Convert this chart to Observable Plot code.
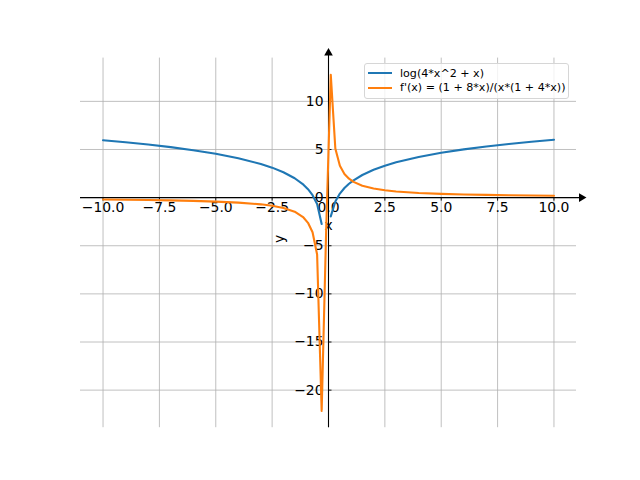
<!DOCTYPE html>
<html>
<head>
<meta charset="utf-8">
<script src="https://cdn.jsdelivr.net/npm/d3@7"></script>
<script src="https://cdn.jsdelivr.net/npm/@observablehq/plot@0.6"></script>
<style>
  body { margin: 0; background: #fff; }
  #wrap { position: relative; width: 640px; height: 480px; font-family: "DejaVu Sans", sans-serif; }
  #legend { position: absolute; left: 364px; top: 63px; width: 205px; height: 36px;
    background: rgba(255,255,255,0.8); border: 1px solid #d6d6d6; border-radius: 3px;
    font-size: 11.1px; box-sizing: border-box; }
  .row { position: absolute; left: 3px; height: 14px; display: flex; align-items: center; white-space: nowrap; }
  .sw { width: 24px; height: 2px; margin-right: 8px; }
</style>
</head>
<body>
<div id="wrap">
  <div id="chart"></div>
  <div id="legend">
    <div class="row" style="top:2px"><span class="sw" style="background:#1f77b4"></span>log(4*x^2 + x)</div>
    <div class="row" style="top:16.5px"><span class="sw" style="background:#ff7f0e"></span>f'(x) = (1 + 8*x)/(x*(1 + 4*x))</div>
  </div>
</div>
<script>
// sample positions
const xNeg = [-10, -9, -8, -7, -6, -5, -4, -3, -2.5, -2, -1.5, -1.111, -0.909, -0.707, -0.505, -0.303];
const xMid = [-0.101];
const xPos = [0.101, 0.303, 0.505, 0.707, 0.909, 1.111, 1.5, 2, 2.5, 3, 4, 5, 6, 7, 8, 9, 10];
// blue series: log(4x^2 + x)
const logNeg = [5.966, 5.753, 5.513, 5.242, 4.927, 4.554, 4.094, 3.497, 3.114, 2.639, 2.015, 1.342, 0.874, 0.257, -0.663, -2.744];
const logPos = [-1.953, -0.400, 0.422, 0.995, 1.439, 1.800, 2.351, 2.890, 3.314, 3.664, 4.220, 4.654, 5.011, 5.313, 5.576, 5.808, 6.016];
// orange series: derivative
const derivNeg = [-0.203, -0.225, -0.254, -0.291, -0.341, -0.411, -0.517, -0.697, -0.844, -1.071, -1.467, -2.061, -2.617, -3.602, -5.901, -22.157];
const derivMid = [-3.188];
const derivPos = [12.749, 5.108, 3.304, 2.459, 1.963, 1.635, 1.238, 0.944, 0.764, 0.641, 0.485, 0.390, 0.327, 0.281, 0.246, 0.219, 0.198];
// ticks
const xTicks = [-10, -7.5, -5, -2.5, 0, 2.5, 5, 7.5, 10];
const xTickLabels = ["\u221210.0", "\u22127.5", "\u22125.0", "\u22122.5", "0.0", "2.5", "5.0", "7.5", "10.0"];
const yTicks = [-20, -15, -10, -5, 0, 5, 10];
const yTickLabels = ["\u221220", "\u221215", "\u221210", "\u22125", "0", "5", "10"];

const blueLeft = xNeg.map((x, i) => ({x, y: logNeg[i]}));
const blueRight = xPos.map((x, i) => ({x, y: logPos[i]}));
const orange = [...xNeg, ...xMid, ...xPos].map((x, i) => ({x, y: [...derivNeg, ...derivMid, ...derivPos][i]}));

const allY = [...logNeg, ...logPos, ...derivNeg, ...derivMid, ...derivPos];
const yMin = d3.min(allY), yMax = d3.max(allY);
const pad = (yMax - yMin) * 0.05;
const yDomain = [yMin - pad, yMax + pad];

const font = "DejaVu Sans";
const chart = Plot.plot({
  width: 640, height: 480,
  marginLeft: 80, marginRight: 64, marginTop: 57.6, marginBottom: 52.8,
  x: {domain: [-11, 11], axis: null},
  y: {domain: yDomain, axis: null},
  style: {fontFamily: font, background: "white"},
  marks: [
    Plot.ruleX(xTicks, {x: d => d, stroke: "#b0b0b0", strokeWidth: 0.8, strokeOpacity: 1}),
    Plot.ruleY(yTicks, {y: d => d, stroke: "#b0b0b0", strokeWidth: 0.8, strokeOpacity: 1}),
    Plot.ruleY([0], {stroke: "black", strokeWidth: 1.1, insetRight: -4}),
    Plot.ruleX([0], {stroke: "black", strokeWidth: 1.1, insetTop: -4}),
    Plot.dot([0], {x: 11, y: 0, dx: 5, symbol: "triangle", rotate: 90, r: 3.2, fill: "black", stroke: "none"}),
    Plot.dot([0], {x: 0, y: yDomain[1], dy: -5, symbol: "triangle", r: 3.2, fill: "black", stroke: "none"}),
    Plot.ruleX(xTicks, {x: d => d, y1: 0, y2: 0, insetBottom: -3.5, stroke: "black", strokeWidth: 0.9}),
    Plot.ruleY(yTicks, {y: d => d, x1: 0, x2: 0, insetRight: -3.5, stroke: "black", strokeWidth: 0.9}),
    Plot.text(xTicks, {x: d => d, y: 0, text: (d, i) => xTickLabels[i], lineAnchor: "top", dy: 5, fontSize: 13.9, fill: "black"}),
    Plot.text(yTicks, {x: 0, y: d => d, text: (d, i) => yTickLabels[i], textAnchor: "end", dx: -5, fontSize: 13.9, fill: "black"}),
    Plot.text(["x"], {x: 0, y: 0, lineAnchor: "top", dy: 23, fontSize: 13.9, fill: "black"}),
    Plot.text(["y"], {frameAnchor: "left", dx: 199, rotate: -90, fontSize: 13.9, fill: "black"}),
    Plot.line(blueLeft, {x: "x", y: "y", stroke: "#1f77b4", strokeWidth: 2.1}),
    Plot.line(blueRight, {x: "x", y: "y", stroke: "#1f77b4", strokeWidth: 2.1}),
    Plot.line(orange, {x: "x", y: "y", stroke: "#ff7f0e", strokeWidth: 2.1, curve: "linear"})
  ]
});
document.getElementById("chart").appendChild(chart);
</script>
</body>
</html>
